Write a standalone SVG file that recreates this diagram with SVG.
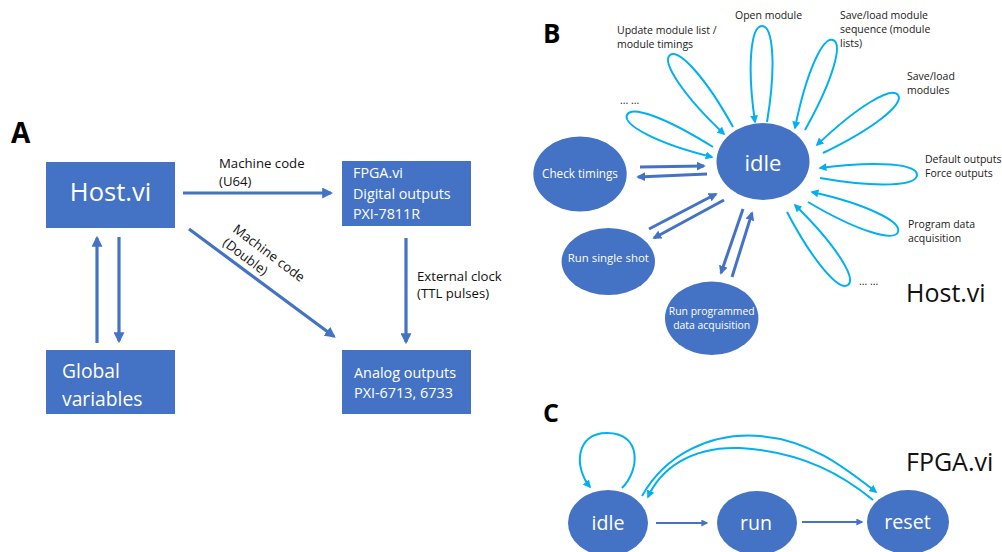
<svg xmlns="http://www.w3.org/2000/svg" width="1002" height="552" viewBox="0 0 1002 552">
<defs>
<style>
text { font-family: "Open Sans", "Liberation Sans", sans-serif; }
.box { fill: #4472C4; }
.wt { fill: #ffffff; }
.lbl { font-size: 13.2px; fill: #111111; }
.sm { font-size: 10.5px; fill: #1a1a1a; }
.panel { font-weight: 700; fill: #000000; }
.big { font-size: 25px; fill: #111111; }
.darrA { stroke: #4472C4; stroke-width: 3.2; fill: none; }
.darrB { stroke: #4472C4; stroke-width: 3; fill: none; }
.darrC { stroke: #4472C4; stroke-width: 2; fill: none; }
.larr { stroke: #00B0F0; stroke-width: 2; fill: none; }
</style>
<marker id="ahA" markerUnits="userSpaceOnUse" viewBox="0 0 10 10" markerWidth="11" markerHeight="11" refX="8" refY="5" orient="auto"><path d="M0,0 L10,5 L0,10 z" fill="#4472C4"/></marker>
<marker id="ahB" markerUnits="userSpaceOnUse" viewBox="0 0 10 10" markerWidth="9" markerHeight="9" refX="8" refY="5" orient="auto"><path d="M0,0 L10,5 L0,10 z" fill="#4472C4"/></marker>
<marker id="ahC" markerUnits="userSpaceOnUse" viewBox="0 0 10 10" markerWidth="8" markerHeight="7" refX="8" refY="5" orient="auto"><path d="M0,0 L10,5 L0,10 z" fill="#4472C4"/></marker>
<marker id="ahL" markerUnits="userSpaceOnUse" viewBox="0 0 10 10" markerWidth="8" markerHeight="8" refX="8" refY="5" orient="auto"><path d="M0,0 L10,5 L0,10 z" fill="#00B0F0"/></marker>
</defs>
<rect width="1002" height="552" fill="#ffffff"/>

<!-- Panel letters -->
<text class="panel" x="11" y="143" font-size="28">A</text>
<text class="panel" x="543" y="43" font-size="26">B</text>
<text class="panel" x="543" y="422" font-size="25">C</text>

<!-- Panel A nodes -->
<g id="host">
<rect class="box" x="46" y="162" width="129" height="66"/>
<text class="wt" x="110.5" y="201" font-size="25.5" text-anchor="middle">Host.vi</text>
</g>
<g id="fpga">
<rect class="box" x="342" y="161" width="129" height="65"/>
<text class="wt" x="353" y="178.3" font-size="14.3">FPGA.vi</text>
<text class="wt" x="353" y="199.3" font-size="14.3">Digital outputs</text>
<text class="wt" x="353" y="219.3" font-size="14.3">PXI-7811R</text>
</g>
<g id="global">
<rect class="box" x="46" y="350" width="129" height="64"/>
<text class="wt" x="62" y="378" font-size="19.3">Global</text>
<text class="wt" x="62" y="406" font-size="19.3">variables</text>
</g>
<g id="analog">
<rect class="box" x="342" y="350" width="129" height="64"/>
<text class="wt" x="354" y="378.3" font-size="14.4">Analog outputs</text>
<text class="wt" x="354" y="398.3" font-size="14.4">PXI-6713, 6733</text>
</g>

<!-- Panel B nodes -->
<g id="b-idle">
<ellipse class="box" cx="763" cy="161.5" rx="46.5" ry="38.5"/>
<text class="wt" x="763" y="171" font-size="22" text-anchor="middle">idle</text>
</g>
<g id="b-check">
<ellipse class="box" cx="580" cy="174" rx="46.7" ry="37.5"/>
<text class="wt" x="580" y="177.5" font-size="11.7" text-anchor="middle">Check timings</text>
</g>
<g id="b-single">
<ellipse class="box" cx="608.3" cy="261.5" rx="46.7" ry="33.5"/>
<text class="wt" x="608.3" y="261.7" font-size="11.4" text-anchor="middle">Run single shot</text>
</g>
<g id="b-prog">
<ellipse class="box" cx="711.7" cy="318.3" rx="46.7" ry="36.7"/>
<text class="wt" x="711.7" y="315" font-size="10.4" text-anchor="middle">Run programmed</text>
<text class="wt" x="711.7" y="328.5" font-size="10.4" text-anchor="middle">data acquisition</text>
</g>

<!-- Panel B labels -->
<g id="b-labels">
<text class="sm" x="617" y="34">Update module list /</text>
<text class="sm" x="617" y="48">module timings</text>
<text class="sm" x="735" y="19">Open module</text>
<text class="sm" x="840" y="19">Save/load module</text>
<text class="sm" x="840" y="33.3">sequence (module</text>
<text class="sm" x="840" y="47.3">lists)</text>
<text class="sm" x="907" y="80">Save/load</text>
<text class="sm" x="907" y="94">modules</text>
<text class="sm" x="620" y="104">... ...</text>
<text class="sm" x="925" y="163.3">Default outputs</text>
<text class="sm" x="925" y="177.3">Force outputs</text>
<text class="sm" x="908" y="227.7">Program data</text>
<text class="sm" x="908" y="241.7">acquisition</text>
<text class="sm" x="859" y="285">... ...</text>
<text class="big" x="906" y="302">Host.vi</text>
</g>

<!-- Panel C nodes -->
<g id="c-idle">
<ellipse class="box" cx="608" cy="523" rx="40" ry="33"/>
<text class="wt" x="608" y="529.5" font-size="19.6" text-anchor="middle">idle</text>
</g>
<g id="c-run">
<ellipse class="box" cx="757" cy="523" rx="40" ry="32"/>
<text class="wt" x="756" y="530" font-size="19.6" text-anchor="middle">run</text>
</g>
<g id="c-reset">
<ellipse class="box" cx="908" cy="522" rx="41" ry="32"/>
<text class="wt" x="907.5" y="528.5" font-size="19.6" text-anchor="middle">reset</text>
</g>
<text class="big" x="906" y="471">FPGA.vi</text>

<!-- Connectors -->
<g id="connectors">
<!-- Panel A -->
<line class="darrA" x1="183" y1="193" x2="331" y2="193" marker-end="url(#ahA)"/>
<line class="darrA" x1="189" y1="229" x2="334" y2="336.5" marker-end="url(#ahA)"/>
<line class="darrA" x1="97" y1="343" x2="97" y2="238" marker-end="url(#ahA)"/>
<line class="darrA" x1="119" y1="237" x2="119" y2="341" marker-end="url(#ahA)"/>
<line class="darrA" x1="406" y1="238" x2="406" y2="342" marker-end="url(#ahA)"/>
<text class="lbl" x="219" y="167.7">Machine code</text>
<text class="lbl" x="219" y="185.5">(U64)</text>
<text class="lbl" x="417" y="280.7">External clock</text>
<text class="lbl" x="417" y="297.5">(TTL pulses)</text>
<g transform="translate(232,231) rotate(37)">
<text class="lbl" x="0" y="0">Machine code</text>
<text class="lbl" x="0" y="17">(Double)</text>
</g>

<!-- Panel B dark arrows -->
<line class="darrB" x1="640" y1="167" x2="704" y2="166" marker-end="url(#ahB)"/>
<line class="darrB" x1="707" y1="174" x2="638" y2="177" marker-end="url(#ahB)"/>
<line class="darrB" x1="649" y1="229" x2="716" y2="194" marker-end="url(#ahB)"/>
<line class="darrB" x1="724" y1="200" x2="654" y2="238" marker-end="url(#ahB)"/>
<line class="darrB" x1="743" y1="209" x2="721" y2="273" marker-end="url(#ahB)"/>
<line class="darrB" x1="732" y1="277" x2="752" y2="213" marker-end="url(#ahB)"/>

<!-- Panel B self loops -->
<path class="larr" d="M733,127 C705,76.2 678.5,48.4 670,55 C661.5,61.6 681.8,94.2 724,134" marker-end="url(#ahL)"/>
<path class="larr" d="M767,122 C776.6,64.4 772.8,26 762,26 C751.2,26 746.6,64.4 755,122" marker-end="url(#ahL)"/>
<path class="larr" d="M805,130 C833.2,79.7 843.1,43.8 833,40 C822.9,36.2 806.4,71.5 795,128" marker-end="url(#ahL)"/>
<path class="larr" d="M823,153 C874.9,128 904.1,103.9 898,95 C891.9,86.1 858.7,105.2 817,145" marker-end="url(#ahL)"/>
<path class="larr" d="M820,178 C878,188.2 916.8,185.8 917,175 C917.2,164.2 878.4,160.2 820,168" marker-end="url(#ahL)"/>
<path class="larr" d="M808,202 C857.5,231.4 894,242 898,232 C902,222 868.1,204.6 812,192" marker-end="url(#ahL)"/>
<path class="larr" d="M787,212 C814,263.3 839.3,291.4 848,285 C856.7,278.6 836.4,245.5 795,205" marker-end="url(#ahL)"/>
<path class="larr" d="M713,147 C664.6,116.8 631.2,105.1 627,115 C622.8,124.9 656.6,143.4 712,157" marker-end="url(#ahL)"/>

<!-- Panel C -->
<line class="darrC" x1="656" y1="523" x2="707" y2="523" marker-end="url(#ahC)"/>
<line class="darrC" x1="802" y1="522" x2="862" y2="522" marker-end="url(#ahC)"/>
<path class="larr" d="M622,488 C640,470 642,433 607,433 C575,433 574,468 590,487" marker-end="url(#ahL)"/>
<path class="larr" d="M642,496 C665,455 710,432 760,436 C810,440 845,468 876,492" marker-end="url(#ahL)"/>
<path class="larr" d="M873,500 C845,477 805,452 740,448 C690,446 660,470 648,497" marker-end="url(#ahL)"/>
</g>
</svg>
